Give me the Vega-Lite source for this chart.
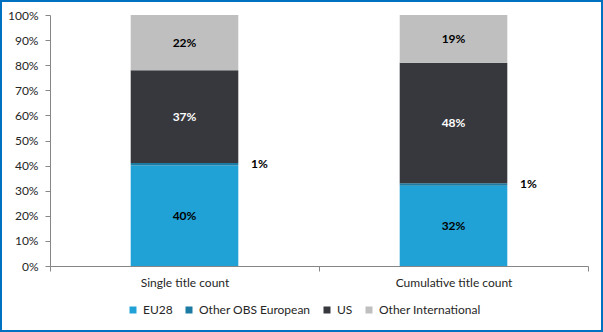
{
  "$schema": "https://vega.github.io/schema/vega-lite/v6.json",
  "width": 603,
  "height": 332,
  "autosize": "none",
  "padding": 0,
  "background": "white",
  "config": {
    "view": {"stroke": "#0070C0", "strokeWidth": 4},
    "font": "Lato",
    "axis": {"grid": false, "labelFont": "Lato", "labelFontSize": 12, "labelColor": "#262626", "domainColor": "#868686", "tickColor": "#868686", "title": null, "labelOverlap": false},
    "legend": {"labelFont": "Lato", "labelFontSize": 12, "labelColor": "#262626"}
  },
  "data": {
    "values": [
      {"cat": "Single title count", "series": "EU28", "value": 0.40, "order": 1},
      {"cat": "Single title count", "series": "Other OBS European", "value": 0.01, "order": 2},
      {"cat": "Single title count", "series": "US", "value": 0.37, "order": 3},
      {"cat": "Single title count", "series": "Other International", "value": 0.22, "order": 4},
      {"cat": "Cumulative title count", "series": "EU28", "value": 0.32, "order": 1},
      {"cat": "Cumulative title count", "series": "Other OBS European", "value": 0.01, "order": 2},
      {"cat": "Cumulative title count", "series": "US", "value": 0.48, "order": 3},
      {"cat": "Cumulative title count", "series": "Other International", "value": 0.19, "order": 4}
    ]
  },
  "layer": [
    {
      "mark": {"type": "bar", "width": {"band": 0.4}},
      "encoding": {
        "x": {
          "field": "cat", "type": "nominal", "sort": null,
          "scale": {"range": [50, 588], "paddingInner": 0, "paddingOuter": 0},
          "axis": {"title": null, "labelAngle": 0, "tickBand": "extent", "tickSize": 5, "labelPadding": 6, "offset": -66}
        },
        "y": {
          "field": "value", "type": "quantitative", "stack": "zero",
          "scale": {"domain": [0, 1], "range": [266, 15], "nice": false},
          "axis": {"title": null, "values": [0, 0.1, 0.2, 0.3, 0.4, 0.5, 0.6, 0.7, 0.8, 0.9, 1], "labelOverlap": false, "format": ".0%", "tickSize": 5, "labelPadding": 7, "offset": -50}
        },
        "color": {
          "field": "series", "type": "nominal",
          "scale": {"domain": ["EU28", "Other OBS European", "US", "Other International"], "range": ["#21A2D6", "#1B7BA3", "#37383D", "#BFBFBF"]},
          "legend": {"title": null, "orient": "none", "legendX": 127, "legendY": 304, "direction": "horizontal", "symbolType": "square", "symbolSize": 49, "symbolStrokeWidth": 0, "columnPadding": 10, "labelOffset": 4, "padding": 0}
        },
        "order": {"field": "order", "type": "quantitative"}
      }
    },
    {
      "transform": [
        {"stack": "value", "groupby": ["cat"], "sort": [{"field": "order"}], "as": ["y0", "y1"]},
        {"calculate": "(datum.y0 + datum.y1) / 2", "as": "mid"},
        {"filter": "datum.series != 'Other OBS European'"}
      ],
      "mark": {"type": "text", "fontWeight": "bold", "fontSize": 12, "font": "Lato"},
      "encoding": {
        "x": {"field": "cat", "type": "nominal", "sort": null},
        "y": {
          "field": "mid", "type": "quantitative",
          "axis": {"title": null, "values": [0, 0.1, 0.2, 0.3, 0.4, 0.5, 0.6, 0.7, 0.8, 0.9, 1], "labelOverlap": false, "format": ".0%", "tickSize": 5, "labelPadding": 7, "offset": -50}
        },
        "text": {"field": "value", "type": "quantitative", "format": ".0%"},
        "color": {"condition": {"test": "datum.series == 'US'", "value": "white"}, "value": "black"}
      }
    },
    {
      "transform": [
        {"stack": "value", "groupby": ["cat"], "sort": [{"field": "order"}], "as": ["y0", "y1"]},
        {"calculate": "(datum.y0 + datum.y1) / 2", "as": "mid"},
        {"filter": "datum.series == 'Other OBS European'"}
      ],
      "mark": {"type": "text", "fontWeight": "bold", "fontSize": 12, "font": "Lato", "dx": 75, "color": "black"},
      "encoding": {
        "x": {"field": "cat", "type": "nominal", "sort": null},
        "y": {
          "field": "mid", "type": "quantitative",
          "axis": {"title": null, "values": [0, 0.1, 0.2, 0.3, 0.4, 0.5, 0.6, 0.7, 0.8, 0.9, 1], "labelOverlap": false, "format": ".0%", "tickSize": 5, "labelPadding": 7, "offset": -50}
        },
        "text": {"field": "value", "type": "quantitative", "format": ".0%"}
      }
    }
  ]
}
